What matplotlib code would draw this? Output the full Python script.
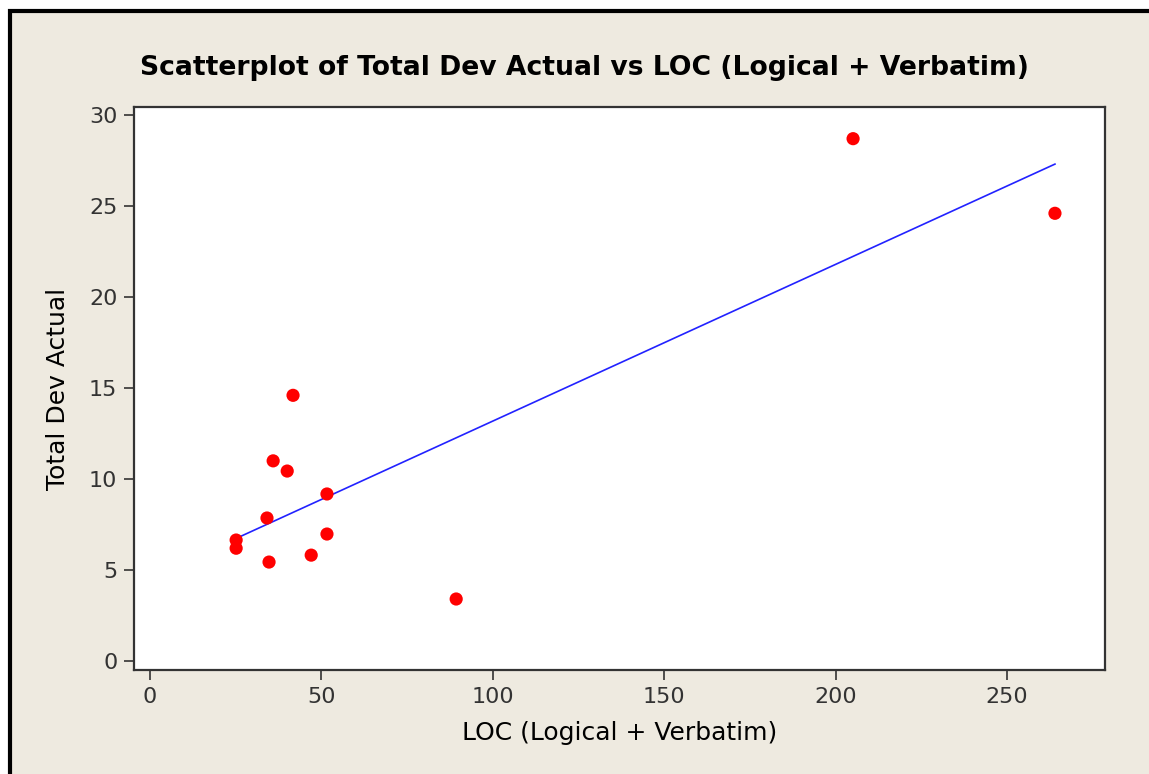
import matplotlib
matplotlib.use("Agg")
import matplotlib.pyplot as plt
import numpy as np
from matplotlib.patches import Rectangle

# LOC (Logical + Verbatim) vs Total Dev Actual
loc = [25.1, 25.1, 34.1, 34.7, 35.9, 40.0, 41.7, 47.0, 51.6, 51.6, 89.3, 205.1, 264.0]
dev = [6.65, 6.2, 7.86, 5.44, 11.0, 10.44, 14.6, 5.82, 6.98, 9.18, 3.41, 28.7, 24.6]
x_ticks = [0, 50, 100, 150, 200, 250]
y_ticks = [0, 5, 10, 15, 20, 25, 30]

bg = "#EEEAE0"
fig = plt.figure(figsize=(11.49, 7.74), dpi=100, facecolor="white")

# beige panel with black frame (only left/top edges visible)
fig.add_artist(Rectangle((9.5 / 1149, -0.1), 1.2, (774 - 11.5) / 774 + 0.1,
                         transform=fig.transFigure, facecolor=bg,
                         edgecolor="black", linewidth=3, zorder=0))

ax = fig.add_axes([134 / 1149, (774 - 670) / 774, 971 / 1149, 563 / 774])
ax.set_facecolor("white")

# least-squares fit line over the data range
slope, intercept = np.polyfit(loc, dev, 1)
xs = np.array([min(loc), max(loc)])
ax.plot(xs, slope * xs + intercept, color="#2222FF", linewidth=1.2, zorder=2)
ax.scatter(loc, dev, s=90, color="#FF0000", edgecolors="none", zorder=3)

ax.set_xlim(-4.7, 278.6)
ax.set_ylim(-0.49, 30.44)
ax.set_xticks(x_ticks)
ax.set_yticks(y_ticks)
ax.tick_params(direction="out", length=7, width=1.2, color="#333333",
               labelsize=16, labelcolor="#333333", pad=5)
for s in ax.spines.values():
    s.set_color("#333333")
    s.set_linewidth(1.6)

ax.set_xlabel("LOC (Logical + Verbatim)", fontsize=18, labelpad=10)
ax.set_ylabel("Total Dev Actual", fontsize=18, labelpad=14)
fig.text(584 / 1149, (774 - 68) / 774,
         "Scatterplot of Total Dev Actual vs LOC (Logical + Verbatim)",
         ha="center", va="center", fontsize=19.2, fontweight="bold")

fig.savefig("out.png", dpi=100, facecolor=fig.get_facecolor())
